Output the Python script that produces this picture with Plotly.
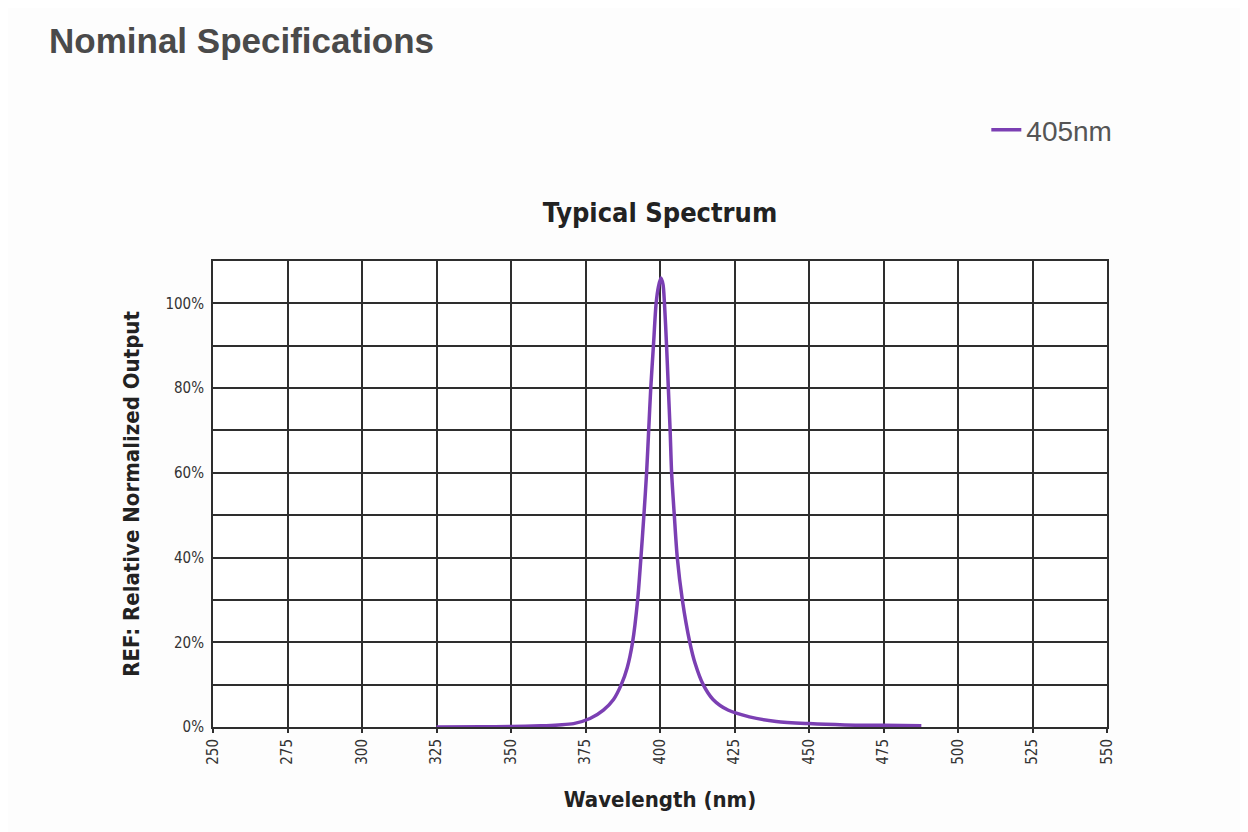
import plotly.graph_objects as go

# wavelength (nm) and relative output (%)
wavelength = [325, 340, 350, 360, 366, 371, 376.5, 381, 384.4, 387, 389, 390.8, 392.5,
              393.6, 394.6, 395.5, 396.2, 396.9, 397.8, 398.7, 399.5, 400.3, 401, 401.5,
              402.2, 402.8, 403.4, 403.9, 404.8, 405.8, 407.5, 410, 411.8, 414.5, 417.8,
              422.8, 430, 439, 450, 462, 475, 487.7]
output = [0, 0.05, 0.1, 0.3, 0.5, 0.8, 2, 4, 6.5, 10, 14, 20, 30,
          40, 50, 60, 70, 80, 90, 100, 104, 106, 104.5, 100,
          90, 80, 70, 60, 50, 40, 30, 20, 15, 10, 6.5,
          4, 2.4, 1.3, 0.8, 0.5, 0.4, 0.3]

x_ticks = list(range(250, 551, 25))
y_ticks = [0, 20, 40, 60, 80, 100]
y_labels = [f"{v}%" for v in y_ticks]

narrow = "Liberation Sans Narrow, Arial Narrow, DejaVu Sans Condensed, sans-serif"
purple = "#7b3fb3"
grid = "#2e2e2e"

fig = go.Figure()
fig.add_trace(go.Scatter(x=wavelength, y=output, mode="lines", name="405nm",
                         line=dict(color=purple, width=3.5, shape="spline", smoothing=0.8)))

# page body has an 8px margin, so the figure is drawn 8px smaller
fig.update_layout(
    width=1240, height=824,
    paper_bgcolor="#fdfdfd", plot_bgcolor="#ffffff",
    margin=dict(l=205, r=141, t=253, b=105),
    title=dict(text="<b>Typical Spectrum</b>", xref="paper", x=0.5, xanchor="center",
               y=0.752, yanchor="middle",
               font=dict(family=narrow, size=27, color="#222222")),
    showlegend=True,
    legend=dict(x=0.865, y=1.281, xanchor="left", yanchor="middle",
                bgcolor="rgba(0,0,0,0)", itemwidth=30,
                font=dict(family="Liberation Sans, Arial, sans-serif", size=28, color="#555555")),
    annotations=[dict(text="<b>Nominal Specifications</b>", xref="paper", yref="paper",
                      x=-0.186, y=1.474, xanchor="left", yanchor="middle", showarrow=False,
                      font=dict(family="Liberation Sans, Arial, sans-serif", size=35, color="#4a4a4a"))],
)

fig.update_xaxes(
    range=[250, 550], tickvals=x_ticks, ticktext=[str(v) for v in x_ticks], tickangle=-90,
    showgrid=True, gridcolor=grid, gridwidth=2, zeroline=False,
    showline=True, linecolor=grid, linewidth=2, mirror=True,
    ticks="outside", ticklen=4, tickcolor=grid, tickwidth=2,
    tickfont=dict(family=narrow, size=15, color="#333333"),
    title=dict(text="<b>Wavelength (nm)</b>", standoff=28,
               font=dict(family=narrow, size=22, color="#222222")),
)
fig.update_yaxes(
    range=[0, 110], tickvals=y_ticks, ticktext=y_labels,
    showgrid=True, gridcolor=grid, gridwidth=2, zeroline=False,
    minor=dict(dtick=10, showgrid=True, gridcolor=grid, gridwidth=2, tick0=0),
    showline=True, linecolor=grid, linewidth=2, mirror=True,
    ticklabelstandoff=4,
    tickfont=dict(family=narrow, size=15, color="#333333"),
    title=dict(text="<b>REF: Relative Normalized Output</b>", standoff=20,
               font=dict(family=narrow, size=22, color="#222222")),
)

fig.write_html("out.html")
